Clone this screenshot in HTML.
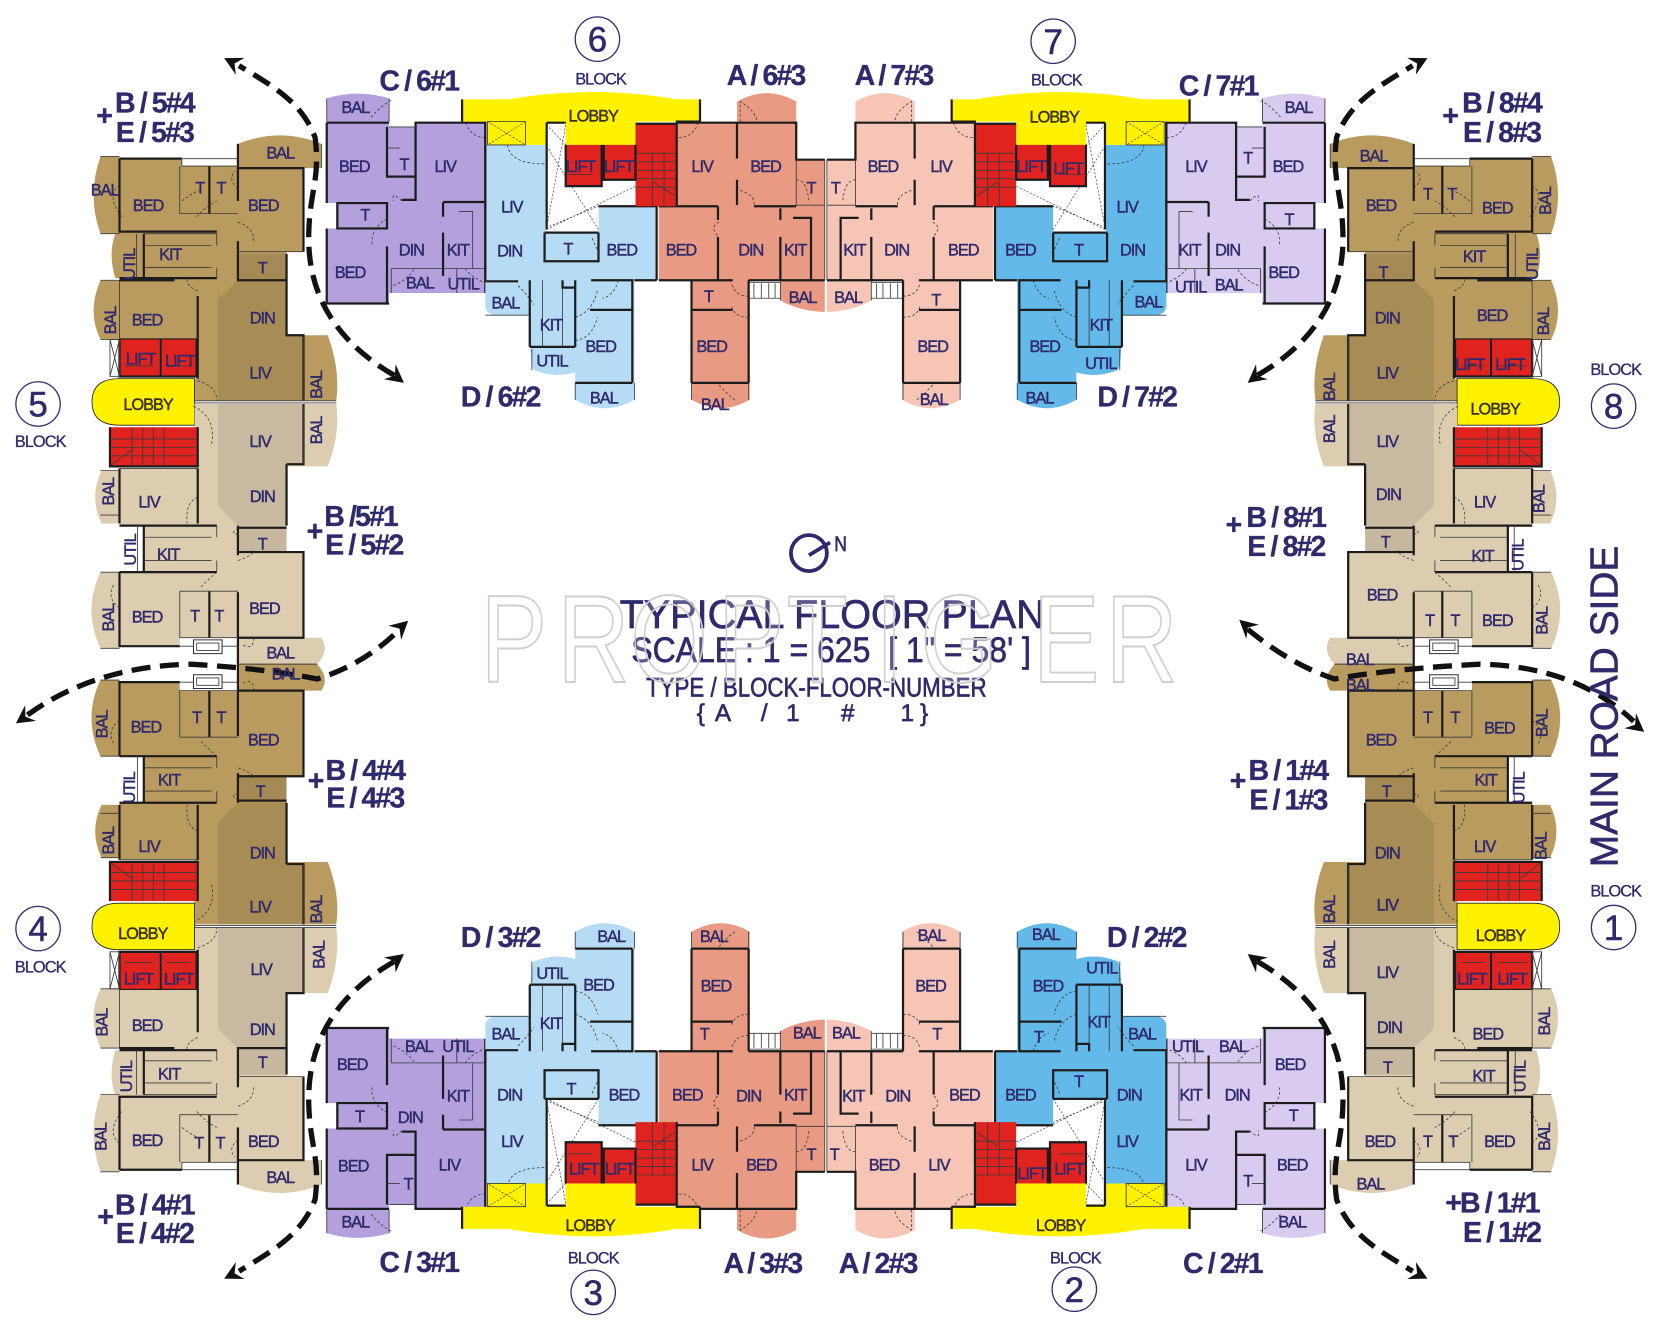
<!DOCTYPE html>
<html><head><meta charset="utf-8"><title>Typical Floor Plan</title>
<style>
html,body{margin:0;padding:0;background:#fff;width:1658px;height:1322px;overflow:hidden}
svg{display:block}
text{font-family:"Liberation Sans",sans-serif;fill:#2f2a6c;text-anchor:middle;dominant-baseline:central}
.r text{font-size:15.5px;letter-spacing:-1px;stroke:#2f2a6c;stroke-width:.4}
.b text{font-size:27px;font-weight:bold;letter-spacing:-1.8px;stroke:#2f2a6c;stroke-width:.3}
.n text{font-size:33px;stroke:#2f2a6c;stroke-width:.5}
.k text{font-size:15.5px;letter-spacing:-.9px;stroke:#2f2a6c;stroke-width:.3}
.l text{fill:#3a3020;stroke:#3a3020}
.m text{stroke:#2f2a6c;stroke-width:.6}
.w{fill:none;stroke:#1c1c1c;stroke-width:2.1}
.t{fill:none;stroke:#3a3a3a;stroke-width:.8}
.x{fill:none;stroke:#333;stroke-width:.6;stroke-dasharray:2 1.5}
.d{fill:none;stroke:#333;stroke-width:.7;stroke-dasharray:2.5 2}
.c{fill:#fff;stroke:#332e72;stroke-width:1.2}
.y{fill:#fff200}.e{fill:#e0231f}
.a{fill:none;stroke:#111;stroke-width:5;stroke-dasharray:18 9}
</style></head><body>
<svg xmlns="http://www.w3.org/2000/svg" xmlns:xlink="http://www.w3.org/1999/xlink" width="1658" height="1322" viewBox="0 0 1568 1250" preserveAspectRatio="none">
<defs>
<!-- Unit C -->
<g id="uc">
<path d="M309 115V93Q338 84 368 93V120H392V115H459V277H368V287H309V216H319V192H309Z"/>
<path class="w" d="M309 116H368M309 116V192M309 216V287H368M366 120V167H393M393 115V189H380M319 192H366V216H319ZM419 191V205M419 220V261M419 191H458M459 115V277M366 233V287M392 116H459"/>
<path class="t" d="M368 120H393M378 140H366M434 200H447V254M370 254H458M370 254V277M432 254V277M368 93V115M309 93V115"/>
<path class="d" d="M370 95Q360 100 350 112M380 190Q370 180 372 190M366 207Q350 216 352 232M459 130Q445 130 440 115M460 268Q445 262 440 254M372 270Q385 265 392 254"/>
</g>
<!-- Unit D -->
<g id="ud">
<path d="M461 137H516V220H566V195H621V265H600V378Q572 394 544 378V352Q525 358 505 350Q501 345 501 298H470Q459 298 459 288V137Z"/>
<path class="w" d="M459 115V266M515 220V247H566V220M515 220H566M566 195H621V265M559 265H598V362M558 293H598M544 362H598M544 265V328M501 265V328M501 328H544M532 265V272H544M459 266H490M600 265H621"/>
<path class="t" d="M513 265V328M532 272V328M544 362V378M600 362V378M459 298H501M503 330V350"/>
<path class="d" d="M480 137Q482 155 515 155M560 225Q566 240 568 240M585 265Q580 280 570 282M544 300Q560 295 565 275M544 322Q560 320 565 300M490 270Q498 278 505 288"/>
</g>
<!-- Unit A -->
<g id="ua">
<path d="M640 115H697V96Q725 80 753 96V151H780V295Q755 294 738 284V265H709V378Q682 394 654 378V265H623V195H640Z"/>
<path class="w" d="M641 116H753M697 115V150M697 170V194M753 115V152M753 151H780M623 195H679M679 195V208M679 224V265M713 195H753M738 197V208M738 224V265M750 206H767V265M654 265V362M654 265H693M654 293H693M708 265V362M654 362H708M623 265H654M708 265H780"/>
<path class="t" d="M753 151V194M753 194H780M780 151V265M654 362V378M708 362V378M738 265V284"/>
<path class="d" d="M642 130Q655 130 660 117M700 115V96Q715 105 716 116M700 180Q715 185 713 195M680 210Q670 215 680 224M708 280Q695 280 692 268M708 300Q695 300 692 290M753 170Q763 170 765 190M680 364Q690 375 695 378"/>
<path class="t" d="M709 267H738M709 282H738M713 268V282M720 268V282M727 268V282M733 268V282"/>
</g>
<!-- Core -->
<g id="core">
<path class="y" d="M437 115V94H480Q561 80 640 94H662V115H601V137H535V116H517V137H461V115Z"/>
<path class="w" d="M662 94V115M437 94V115M517 116H535M517 116V217M639 115H662"/>
<path class="t" d="M461 115H497V137H461Z"/>
<path class="x" d="M461 115L497 137M497 115L461 137M517 118L535 137M535 118L517 215L566 195M517 138L566 217M517 217L601 176"/>
<rect class="e" x="535" y="137" width="34" height="39"/><rect class="e" x="571" y="137" width="30" height="33"/>
<rect class="e" x="601" y="117" width="39" height="78"/>
<path class="w" d="M535 137V176H569V137M571 137V170H601V137M640 116V195M601 117H640"/>
<path class="t" d="M601 145H640M601 153H640M601 161H640M601 169H640M601 177H640M617 145V195M628 145V195M618 172L638 185M538 165H560"/>
</g>
<!-- Tan half with lifts -->
<g id="hx">
<path d="M95 148H113V150H172V157H225V136Q265 120 304 136L304 159H287V238H271V317H287H310Q322 350 318 379H184V358H187V321H104V321H95Q82 295 95 265H113V263H109Q102 240 109 221H113V221H95Q82 185 95 148Z"/>
<path d="M206 283L225 265H271V317H287V379H206Z" fill="#000" fill-opacity=".09"/>
<rect x="225" y="240" width="46" height="25" fill="#000" fill-opacity=".1"/>
<path class="w" d="M113 150H172M113 150V219H205M198 157V202M225 159H287V238M225 159V190M225 228V265H271M271 240V317H287V379M136 221V263M113 263H205M187 280V358M113 265H165M113 321H187M225 136V159"/>
<path class="t" d="M172 150V157H225M170 157V202H225M136 221H205V232M205 253V263M136 232H200M136 253H200M225 238H287M113 265V321M184 379H318M184 381H318M95 148H113M95 221H113M95 265H113M95 321H113M172 150H225M287 317V379M304 136V159M129 221V263"/>
<path class="d" d="M113 175Q100 185 115 205M172 190Q185 180 190 180M225 178Q215 170 222 162M186 205Q195 195 205 190M225 210Q240 215 240 228M187 275Q175 270 177 262M187 360Q205 365 205 379"/>
<rect class="e" x="113" y="321" width="38" height="35"/><rect class="e" x="153" y="321" width="33" height="35"/>
<path class="w" d="M113 321V356H186V321M152 321V356"/>
<path class="t" d="M104 321H113V356H104ZM104 321L113 356M113 321L104 356M118 346H145M158 346H180"/>
<path class="y" d="M184 358V402H113Q87 402 87 380Q87 358 113 358Z" stroke="#222" stroke-width=".8"/>
</g>
<!-- Tan half with stairs -->
<g id="hy">
<path d="M184 382H318Q322 410 310 441H271V522H287V603H304Q312 615 300 628H225V603H170V611H113V613H95Q78 577 95 541H113V541H136V497H113V495H96Q84 470 96 445H113V443H184Z"/>
<path d="M206 382H287V439H271V497H225L206 478Z" fill="#000" fill-opacity=".09"/>
<rect x="225" y="499" width="46" height="23" fill="#000" fill-opacity=".1"/>
<path class="w" d="M113 443V495M187 443V495M113 497H205M136 497V541M113 541H205M225 497V525M225 522H287V603H225M225 560V603M198 559V603M113 541V611H170M271 439V497M287 382V439H271M225 499H271M225 603H287M225 603V628"/>
<path class="t" d="M170 559V603H225M170 559H225M136 508H200M205 497V508M205 530V541M136 530H200M95 445H113M95 487H113M95 541H113M95 613H113M170 611H225M225 628H300M287 382V439M113 443H187M130 497V541"/>
<path class="d" d="M187 470Q175 475 177 495M225 505Q215 505 228 498M190 555Q200 545 205 541M225 530Q240 525 240 520M113 575Q100 565 108 552M230 610Q240 615 240 603M183 384Q205 395 200 420"/>
<rect class="e" x="104" y="404" width="83" height="37"/>
<path class="w" d="M104 404V441H187V404"/>
<path class="t" d="M104 415H187M104 423H187M104 431H187M125 404V441M135 404V441M145 404V441M155 404V441M105 440L125 425"/>
<path d="M183 605H210V618H183Z" fill="#fff" stroke="#333"/><path class="t" d="M186 608H207V615H186Z"/>
</g>
<!-- Arcs -->
<path id="ah" d="M0 0L-17 -9L-11 0L-17 9Z" fill="#111"/>
<g id="ar">
<path class="a" d="M373 355C330 330 290 290 292 220C293 180 303 170 298 130C285 95 255 80 226 62"/>
<use xlink:href="#ah" transform="translate(382 362) rotate(38)"/>
<use xlink:href="#ah" transform="translate(212 55) rotate(207)"/>
</g>
</defs>

<!-- Wings -->
<use xlink:href="#uc" fill="#b3a0dc"/>
<use xlink:href="#ud" fill="#b5dcf4"/>
<use xlink:href="#ua" fill="#e99a82"/>
<use xlink:href="#core"/>
<g transform="translate(1562 0) scale(-1 1)">
<use xlink:href="#uc" fill="#d9caf0"/><use xlink:href="#ud" fill="#63b9ea"/><use xlink:href="#ua" fill="#f6c5b5"/><use xlink:href="#core"/>
</g>
<g transform="translate(0 1259) scale(1 -1)">
<use xlink:href="#uc" fill="#b3a0dc"/><use xlink:href="#ud" fill="#b5dcf4"/><use xlink:href="#ua" fill="#e99a82"/>
</g>
<use xlink:href="#core" transform="translate(0 1256) scale(1 -1)"/>
<g transform="translate(1562 1259) scale(-1 -1)">
<use xlink:href="#uc" fill="#d9caf0"/><use xlink:href="#ud" fill="#63b9ea"/><use xlink:href="#ua" fill="#f6c5b5"/>
</g>
<use xlink:href="#core" transform="translate(1562 1256) scale(-1 -1)"/>
<!-- Tan blocks -->
<use xlink:href="#hx" fill="#b99a5f"/><use xlink:href="#hy" fill="#dccdb0"/>
<g transform="translate(0 1256) scale(1 -1)"><use xlink:href="#hy" fill="#b99a5f"/><use xlink:href="#hx" fill="#dccdb0"/></g>
<g transform="translate(1562 0) scale(-1 1)"><use xlink:href="#hx" fill="#b99a5f"/><use xlink:href="#hy" fill="#dccdb0"/></g>
<g transform="translate(1562 1256) scale(-1 -1)"><use xlink:href="#hy" fill="#b99a5f"/><use xlink:href="#hx" fill="#dccdb0"/></g>

<!-- Arcs -->
<use xlink:href="#ar"/>
<use xlink:href="#ar" transform="translate(1562 0) scale(-1 1)"/>
<use xlink:href="#ar" transform="translate(0 1264) scale(1 -1)"/>
<use xlink:href="#ar" transform="translate(1562 1264) scale(-1 -1)"/>
<path class="a" d="M26 676Q90 630 180 628Q250 632 300 642Q345 628 378 595"/>
<use xlink:href="#ah" transform="translate(15 684) rotate(145)"/>
<use xlink:href="#ah" transform="translate(386 587) rotate(-42)"/>
<path class="a" d="M1180 595Q1220 628 1262 642Q1320 632 1400 628Q1490 630 1545 682"/>
<use xlink:href="#ah" transform="translate(1172 586) rotate(222)"/>
<use xlink:href="#ah" transform="translate(1555 692) rotate(38)"/>

<!-- Block circles -->
<g class="c"><circle cx="565" cy="37" r="21"/><circle cx="996" cy="39" r="21"/><circle cx="36" cy="382" r="21"/><circle cx="1526" cy="384" r="21"/><circle cx="36" cy="878" r="21"/><circle cx="1526" cy="877" r="21"/><circle cx="561" cy="1222" r="21"/><circle cx="1016" cy="1219" r="21"/></g>
<g class="n">
<text x="565" y="38">6</text><text x="996" y="40">7</text><text x="36" y="383">5</text><text x="1526" y="385">8</text><text x="36" y="879">4</text><text x="1526" y="878">1</text><text x="561" y="1223">3</text><text x="1016" y="1220">2</text>
</g>
<g class="k">
<text x="568" y="75">BLOCK</text><text x="999" y="76">BLOCK</text><text x="38" y="418">BLOCK</text><text x="1528" y="350">BLOCK</text><text x="38" y="915">BLOCK</text><text x="1528" y="843">BLOCK</text><text x="561" y="1190">BLOCK</text><text x="1017" y="1190">BLOCK</text>
</g>

<!-- Big labels -->
<g class="b">
<text x="396" y="77">C / 6#1</text><text x="724" y="72">A / 6#3</text><text x="845" y="72">A / 7#3</text><text x="1152" y="82">C / 7#1</text>
<text x="473" y="376">D / 6#2</text><text x="1075" y="376">D / 7#2</text>
<text x="98" y="110">+</text><text x="146" y="98">B / 5#4</text><text x="146" y="126">E / 5#3</text>
<text x="1371" y="110">+</text><text x="1420" y="98">B / 8#4</text><text x="1420" y="126">E / 8#3</text>
<text x="297" y="503">+</text><text x="341" y="489">B /5#1</text><text x="344" y="516">E / 5#2</text>
<text x="1166" y="497">+</text><text x="1216" y="490">B / 8#1</text><text x="1216" y="517">E / 8#2</text>
<text x="298" y="739">+</text><text x="345" y="729">B / 4#4</text><text x="345" y="755">E / 4#3</text>
<text x="1170" y="739">+</text><text x="1218" y="729">B / 1#4</text><text x="1218" y="757">E / 1#3</text>
<text x="99" y="1151">+</text><text x="146" y="1140">B / 4#1</text><text x="146" y="1167">E / 4#2</text>
<text x="1411" y="1138">+B / 1#1</text><text x="1420" y="1166">E / 1#2</text>
<text x="396" y="1194">C / 3#1</text><text x="721" y="1195">A / 3#3</text><text x="830" y="1195">A / 2#3</text><text x="1156" y="1195">C / 2#1</text>
<text x="473" y="887">D / 3#2</text><text x="1084" y="887">D / 2#2</text>
</g>

<!-- Centre title -->
<circle cx="765" cy="523" r="17" fill="none" stroke="#2f2a6c" stroke-width="3.6"/>
<path d="M765 525L785 513" stroke="#2f2a6c" stroke-width="3.6"/>
<g class="m">
<text x="795" y="515" font-size="20" textLength="12" lengthAdjust="spacingAndGlyphs">N</text>
<text x="787" y="581" font-size="38" textLength="402" lengthAdjust="spacingAndGlyphs">TYPICAL FLOOR PLAN</text>
<text x="786" y="615" font-size="33" textLength="378" lengthAdjust="spacingAndGlyphs" xml:space="preserve">SCALE : 1 = 625  [ 1" = 58' ]</text>
<text x="772" y="650" font-size="25" textLength="322" lengthAdjust="spacingAndGlyphs">TYPE / BLOCK-FLOOR-NUMBER</text>
<text y="674" font-size="23"><tspan x="666">{</tspan> <tspan x="687">A</tspan> <tspan x="726">/</tspan> <tspan x="753">1</tspan> <tspan x="805">#</tspan> <tspan x="858">1</tspan><tspan x="874">}</tspan></text>
<text transform="translate(1518 668) rotate(-90)" font-size="37" textLength="304" lengthAdjust="spacingAndGlyphs">MAIN ROAD SIDE</text>
</g>
<!-- Watermark -->
<text transform="scale(.8 1)" y="604" font-size="118" x="568 659 745 849 930 1035 1088 1221 1307" style="text-anchor:start;fill:rgba(255,255,255,.22);stroke:#cfcfcf;stroke-width:1.8">PROPTIGER</text>

<!-- Lobby labels -->
<g class="r l">
<text x="561" y="110">LOBBY</text><text x="997" y="111">LOBBY</text><text x="140" y="383">LOBBY</text><text x="1414" y="387">LOBBY</text><text x="135" y="883">LOBBY</text><text x="1419" y="885">LOBBY</text><text x="558" y="1159">LOBBY</text><text x="1003" y="1159">LOBBY</text>
</g>

<!-- Room labels -->
<g class="r">
<!-- Block 6 -->
<text x="336" y="102">BAL</text><text x="335" y="158">BED</text><text x="382" y="156">T</text><text x="421" y="158">LIV</text><text x="345" y="204">T</text><text x="389" y="237">DIN</text><text x="433" y="237">KIT</text><text x="331" y="258">BED</text><text x="397" y="268">BAL</text><text x="438" y="269">UTIL</text>
<text x="484" y="196">LIV</text><text x="482" y="238">DIN</text><text x="537" y="236">T</text><text x="588" y="237">BED</text><text x="478" y="287">BAL</text><text x="521" y="308">KIT</text><text x="522" y="342">UTIL</text><text x="568" y="328">BED</text><text x="571" y="377">BAL</text>
<text x="549" y="158">LIFT</text><text x="585" y="158">LIFT</text>
<text x="664" y="158">LIV</text><text x="724" y="158">BED</text><text x="767" y="178">T</text><text x="644" y="237">BED</text><text x="710" y="237">DIN</text><text x="752" y="237">KIT</text><text x="670" y="281">T</text><text x="673" y="328">BED</text><text x="676" y="383">BAL</text><text x="759" y="282">BAL</text>
<!-- Block 7 -->
<text x="790" y="178">T</text><text x="835" y="158">BED</text><text x="890" y="158">LIV</text><text x="808" y="237">KIT</text><text x="848" y="237">DIN</text><text x="911" y="237">BED</text><text x="885" y="284">T</text><text x="882" y="328">BED</text><text x="883" y="378">BAL</text><text x="802" y="282">BAL</text>
<text x="975" y="158">LIFT</text><text x="1010" y="160">LIFT</text><text x="1066" y="196">LIV</text><text x="1071" y="237">DIN</text><text x="1020" y="237">T</text><text x="965" y="237">BED</text><text x="1086" y="286">BAL</text><text x="1041" y="308">KIT</text><text x="1041" y="344">UTIL</text><text x="988" y="328">BED</text><text x="983" y="377">BAL</text>
<text x="1228" y="102">BAL</text><text x="1218" y="158">BED</text><text x="1180" y="150">T</text><text x="1131" y="158">LIV</text><text x="1219" y="208">T</text><text x="1125" y="237">KIT</text><text x="1161" y="237">DIN</text><text x="1214" y="258">BED</text><text x="1126" y="272">UTIL</text><text x="1162" y="270">BAL</text>
<!-- Block 5 -->
<text x="265" y="145">BAL</text><text x="99" y="180">BAL</text><text x="140" y="195">BED</text><text x="189" y="178">T</text><text x="209" y="178">T</text><text x="249" y="195">BED</text><text transform="rotate(-90 123 250)" x="123" y="250">UTIL</text><text x="161" y="241">KIT</text><text x="248" y="254">T</text><text x="139" y="303">BED</text><text transform="rotate(-90 105 303)" x="105" y="303">BAL</text><text x="248" y="301">DIN</text><text x="133" y="340">LIFT</text><text x="170" y="342">LIFT</text><text x="246" y="353">LIV</text><text transform="rotate(-90 300 364)" x="300" y="364">BAL</text><text transform="rotate(-90 300 407)" x="300" y="407">BAL</text><text x="246" y="418">LIV</text><text transform="rotate(-90 103 465)" x="103" y="465">BAL</text><text x="141" y="475">LIV</text><text x="248" y="470">DIN</text><text x="248" y="515">T</text><text transform="rotate(-90 124 520)" x="124" y="520">UTIL</text><text x="159" y="525">KIT</text><text x="139" y="584">BED</text><text transform="rotate(-90 103 584)" x="103" y="584">BAL</text><text x="184" y="583">T</text><text x="207" y="583">T</text><text x="250" y="576">BED</text><text x="265" y="618">BAL</text><text x="270" y="638">BAL</text>
<!-- Block 4 -->
<text transform="rotate(-90 97 685)" x="97" y="685">BAL</text><text x="138" y="688">BED</text><text x="186" y="679">T</text><text x="209" y="679">T</text><text x="249" y="700">BED</text><text transform="rotate(-90 123 745)" x="123" y="745">UTIL</text><text x="160" y="738">KIT</text><text x="246" y="749">T</text><text transform="rotate(-90 103 795)" x="103" y="795">BAL</text><text x="141" y="801">LIV</text><text x="248" y="807">DIN</text><text x="246" y="858">LIV</text><text transform="rotate(-90 300 860)" x="300" y="860">BAL</text><text transform="rotate(-90 302 903)" x="302" y="903">BAL</text><text x="131" y="926">LIFT</text><text x="169" y="926">LIFT</text><text x="247" y="917">LIV</text><text transform="rotate(-90 97 967)" x="97" y="967">BAL</text><text x="139" y="970">BED</text><text x="248" y="974">DIN</text><text x="248" y="1005">T</text><text transform="rotate(-90 120 1018)" x="120" y="1018">UTIL</text><text x="160" y="1016">KIT</text><text transform="rotate(-90 96 1075)" x="96" y="1075">BAL</text><text x="139" y="1079">BED</text><text x="188" y="1081">T</text><text x="208" y="1081">T</text><text x="249" y="1080">BED</text><text x="265" y="1114">BAL</text>
<!-- Block 3 -->
<text x="478" y="978">BAL</text><text x="522" y="921">UTIL</text><text x="578" y="886">BAL</text><text x="566" y="932">BED</text><text x="521" y="968">KIT</text><text x="540" y="1030">T</text><text x="590" y="1036">BED</text><text x="482" y="1036">DIN</text><text x="484" y="1080">LIV</text><text x="552" y="1106">LIFT</text><text x="586" y="1106">LIFT</text>
<text x="333" y="1007">BED</text><text x="396" y="990">BAL</text><text x="433" y="990">UTIL</text><text x="433" y="1037">KIT</text><text x="340" y="1056">T</text><text x="388" y="1057">DIN</text><text x="334" y="1103">BED</text><text x="386" y="1120">T</text><text x="425" y="1102">LIV</text><text x="336" y="1156">BAL</text>
<text x="675" y="886">BAL</text><text x="677" y="933">BED</text><text x="666" y="978">T</text><text x="763" y="977">BAL</text><text x="650" y="1036">BED</text><text x="708" y="1037">DIN</text><text x="752" y="1036">KIT</text><text x="664" y="1102">LIV</text><text x="720" y="1102">BED</text><text x="767" y="1092">T</text>
<!-- Block 2 -->
<text x="800" y="977">BAL</text><text x="807" y="1037">KIT</text><text x="849" y="1037">DIN</text><text x="912" y="1036">BED</text><text x="881" y="885">BAL</text><text x="880" y="933">BED</text><text x="886" y="978">T</text><text x="789" y="1092">T</text><text x="836" y="1102">BED</text><text x="888" y="1102">LIV</text>
<text x="989" y="884">BAL</text><text x="1042" y="916">UTIL</text><text x="991" y="933">BED</text><text x="1039" y="967">KIT</text><text x="982" y="981">T</text><text x="1080" y="978">BAL</text><text x="965" y="1036">BED</text><text x="1020" y="1023">T</text><text x="1068" y="1036">DIN</text><text x="1066" y="1080">LIV</text><text x="976" y="1110">LIFT</text><text x="1011" y="1106">LIFT</text>
<text x="1123" y="990">UTIL</text><text x="1166" y="990">BAL</text><text x="1220" y="1007">BED</text><text x="1126" y="1036">KIT</text><text x="1170" y="1036">DIN</text><text x="1223" y="1055">T</text><text x="1131" y="1102">LIV</text><text x="1180" y="1117">T</text><text x="1222" y="1102">BED</text><text x="1222" y="1156">BAL</text>
<!-- Block 8 -->
<text x="1299" y="148">BAL</text><text x="1306" y="195">BED</text><text x="1350" y="184">T</text><text x="1373" y="184">T</text><text x="1416" y="197">BED</text><text transform="rotate(-90 1462 190)" x="1462" y="190">BAL</text><text x="1394" y="243">KIT</text><text transform="rotate(-90 1450 250)" x="1450" y="250">UTIL</text><text x="1308" y="258">T</text><text x="1312" y="301">DIN</text><text x="1411" y="299">BED</text><text transform="rotate(-90 1460 304)" x="1460" y="304">BAL</text><text x="1390" y="345">LIFT</text><text x="1428" y="345">LIFT</text><text x="1312" y="353">LIV</text><text transform="rotate(-90 1258 366)" x="1258" y="366">BAL</text><text transform="rotate(-90 1258 406)" x="1258" y="406">BAL</text><text x="1312" y="418">LIV</text><text x="1404" y="475">LIV</text><text transform="rotate(-90 1456 472)" x="1456" y="472">BAL</text><text x="1313" y="468">DIN</text><text x="1310" y="513">T</text><text x="1402" y="526">KIT</text><text transform="rotate(-90 1436 525)" x="1436" y="525">UTIL</text><text x="1307" y="563">BED</text><text x="1352" y="587">T</text><text x="1376" y="587">T</text><text x="1416" y="587">BED</text><text transform="rotate(-90 1459 587)" x="1459" y="587">BAL</text><text x="1286" y="624">BAL</text><text x="1286" y="648">BAL</text>
<!-- Block 1 -->
<text x="1350" y="679">T</text><text x="1376" y="679">T</text><text x="1418" y="689">BED</text><text x="1306" y="700">BED</text><text transform="rotate(-90 1459 684)" x="1459" y="684">BAL</text><text x="1405" y="738">KIT</text><text transform="rotate(-90 1437 745)" x="1437" y="745">UTIL</text><text x="1311" y="749">T</text><text x="1312" y="807">DIN</text><text x="1404" y="801">LIV</text><text transform="rotate(-90 1458 800)" x="1458" y="800">BAL</text><text x="1312" y="856">LIV</text><text transform="rotate(-90 1258 860)" x="1258" y="860">BAL</text><text transform="rotate(-90 1258 903)" x="1258" y="903">BAL</text><text x="1312" y="920">LIV</text><text x="1392" y="926">LIFT</text><text x="1430" y="926">LIFT</text><text x="1407" y="978">BED</text><text transform="rotate(-90 1461 966)" x="1461" y="966">BAL</text><text x="1314" y="972">DIN</text><text x="1312" y="1010">T</text><text x="1403" y="1018">KIT</text><text transform="rotate(-90 1438 1018)" x="1438" y="1018">UTIL</text><text x="1305" y="1080">BED</text><text x="1350" y="1080">T</text><text x="1374" y="1080">T</text><text x="1418" y="1080">BED</text><text transform="rotate(-90 1461 1075)" x="1461" y="1075">BAL</text><text x="1296" y="1120">BAL</text>
</g>
</svg>
</body></html>
